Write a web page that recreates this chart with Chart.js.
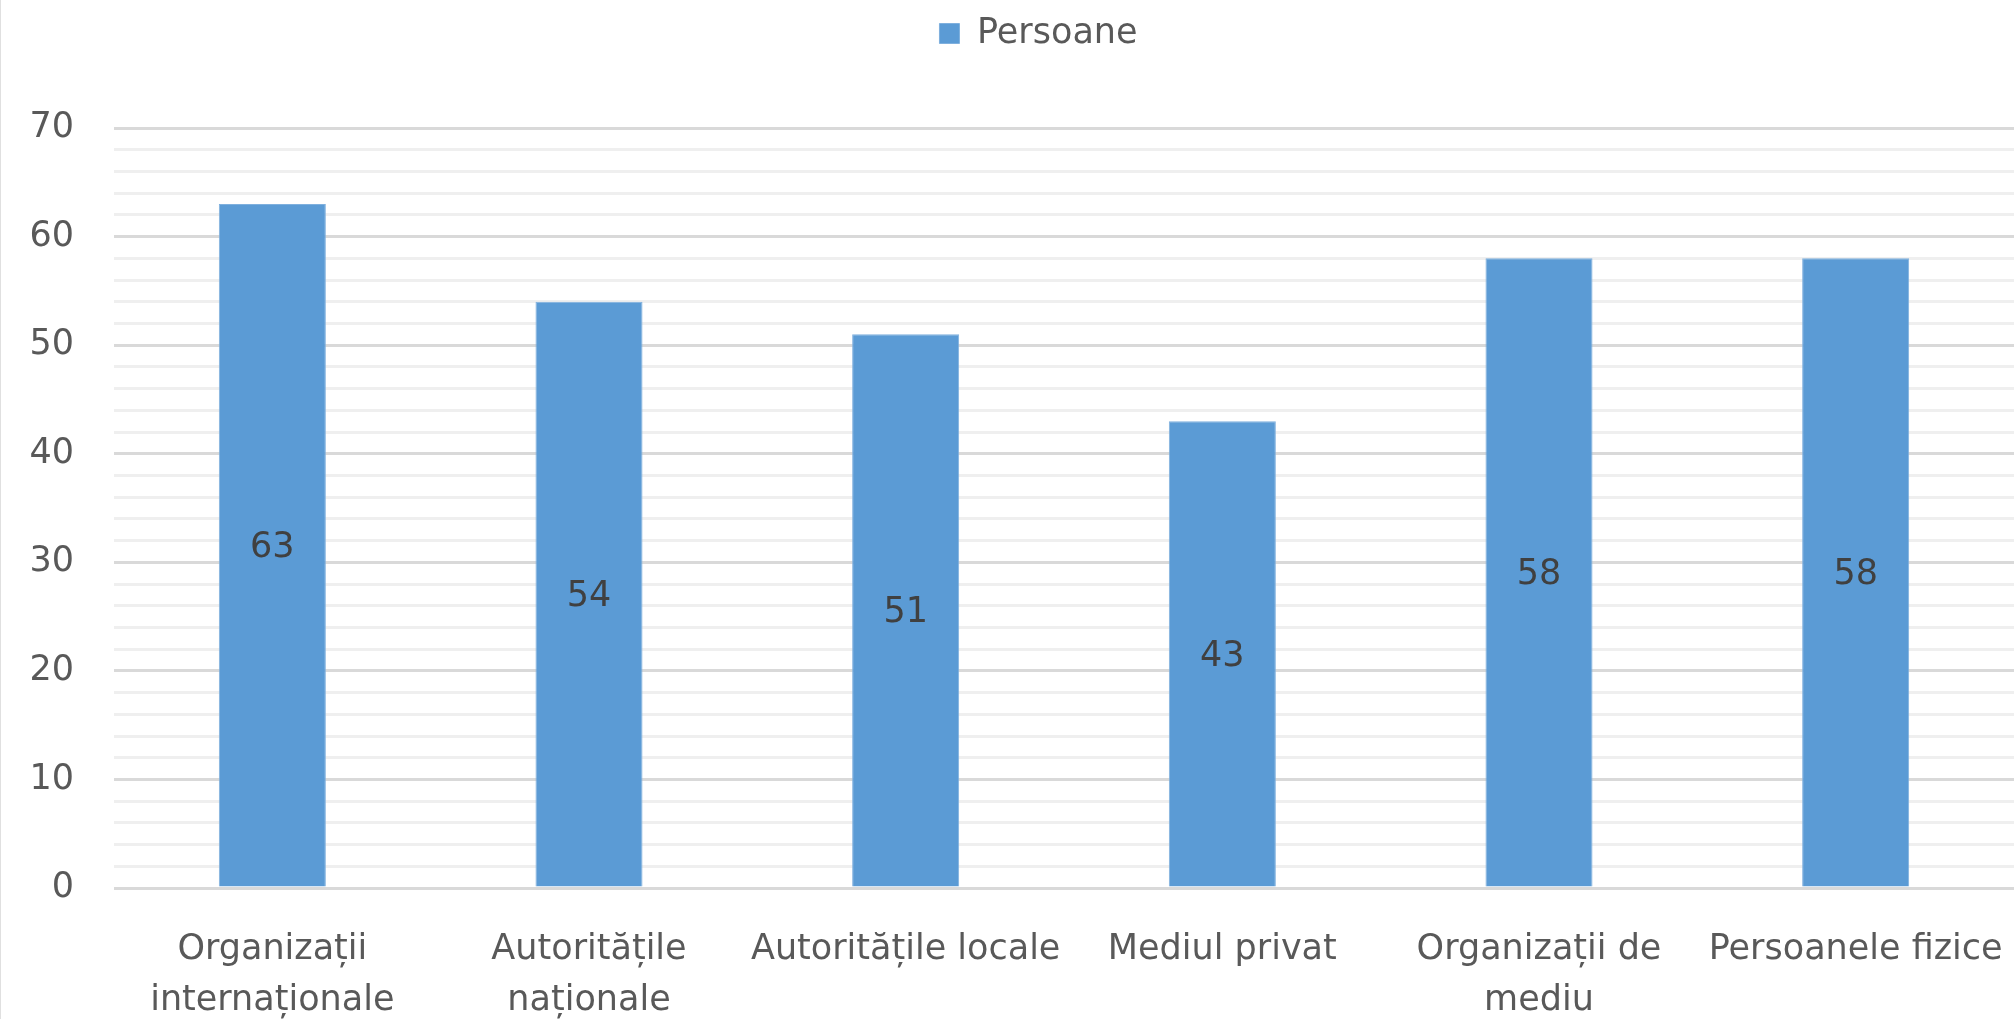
<!DOCTYPE html>
<html>
<head>
<meta charset="utf-8">
<script src="https://cdn.jsdelivr.net/npm/chart.js@4/dist/chart.umd.min.js"></script>
<style>
  html, body { margin: 0; padding: 0; background: #fff; }
  #wrap { width: 2014px; height: 1019px; position: relative; border-left: 1px solid #e0e0e0; box-sizing: border-box; }
</style>
</head>
<body>
<div id="wrap"><canvas id="chart"></canvas></div>
<script>
// date
const categorii = [
    ['Organizații', 'internaționale'],
    ['Autoritățile', 'naționale'],
    'Autoritățile locale',
    'Mediul privat',
    ['Organizații de', 'mediu'],
    'Persoanele fizice'
];
const persoane = [63, 54, 51, 43, 58, 58];
const yTicks = [0, 10, 20, 30, 40, 50, 60, 70];

const textColor = '#595959';
const fontFam = '"DejaVu Sans", sans-serif';
const fontSize = 35;

// etichete de valoare in mijlocul barelor
const valueLabels = {
    id: 'valueLabels',
    afterDatasetsDraw(chart) {
        const ctx = chart.ctx;
        const meta = chart.getDatasetMeta(0);
        ctx.save();
        ctx.font = fontSize + 'px ' + fontFam;
        ctx.fillStyle = '#404040';
        ctx.textAlign = 'center';
        ctx.textBaseline = 'middle';
        meta.data.forEach((bar, i) => {
            const p = bar.getProps(['x', 'y', 'base'], true);
            ctx.fillText(persoane[i], p.x, (p.y + p.base) / 2 + 3);
        });
        ctx.restore();
    }
};

// spatiu sub legenda + mutare usoara spre dreapta
const legendGap = {
    id: 'legendGap',
    beforeInit(chart) {
        const fit = chart.legend.fit;
        chart.legend.fit = function () {
            fit.bind(chart.legend)();
            this.height += 67;
        };
    },
    afterLayout(chart) {
        chart.legend.left += 17;
        chart.legend.right += 17;
    }
};

new Chart(document.getElementById('chart').getContext('2d'), {
    type: 'bar',
    data: {
        labels: categorii,
        datasets: [{
            label: 'Persoane',
            data: persoane,
            backgroundColor: '#5B9BD5',
            borderColor: '#7fb0de',
            borderWidth: 1,
            categoryPercentage: 1,
            barPercentage: 0.338
        }]
    },
    options: {
        responsive: true,
        maintainAspectRatio: false,
        animation: false,
        layout: { padding: { top: 6, left: 28, right: 0, bottom: 0 } },
        plugins: {
            legend: {
                position: 'top',
                labels: {
                    color: textColor,
                    boxWidth: 20,
                    boxHeight: 20,
                    padding: 10,
                    font: { family: fontFam, size: fontSize }
                }
            },
            tooltip: { enabled: false }
        },
        scales: {
            y: {
                min: 0,
                max: 70,
                border: { display: false },
                grid: {
                    color: (c) => (c.tick && yTicks.includes(c.tick.value)) ? '#d9d9d9' : '#efefef',
                    lineWidth: 3,
                    drawTicks: false
                },
                afterFit: (scale) => {
                    scale.width = 85;
                },
                ticks: {
                    stepSize: 2,
                    autoSkip: false,
                    padding: 40,
                    color: textColor,
                    font: { family: fontFam, size: fontSize },
                    callback: (v) => yTicks.includes(v) ? v : ''
                }
            },
            x: {
                border: { display: false },
                grid: { display: false, drawTicks: false },
                afterFit: (scale) => {
                    // inaltime fixa, fara padding lateral pentru etichete
                    scale.height = 131;
                    scale.paddingLeft = 0;
                    scale.paddingRight = 0;
                },
                ticks: {
                    padding: 36,
                    maxRotation: 0,
                    autoSkip: false,
                    color: textColor,
                    font: { family: fontFam, size: fontSize, lineHeight: 1.457 }
                }
            }
        }
    },
    plugins: [valueLabels, legendGap]
});
</script>
</body>
</html>
